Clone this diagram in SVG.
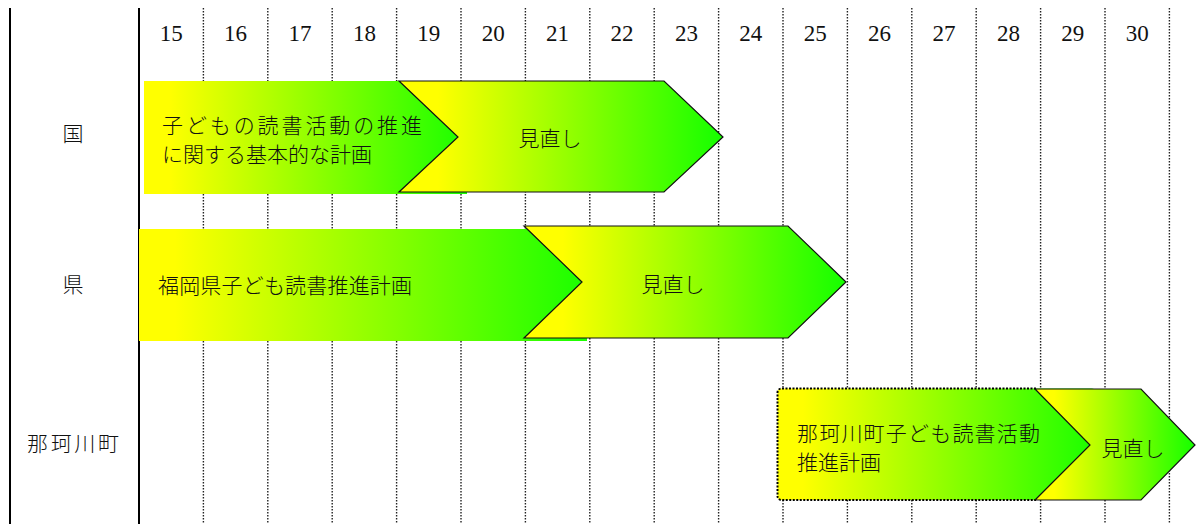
<svg xmlns="http://www.w3.org/2000/svg" width="1196" height="524" viewBox="0 0 1196 524">
<style>
.grid{stroke:#222;stroke-width:1.4;stroke-dasharray:1.5 1.5;fill:none}
.solid{stroke:#000;stroke-width:2;fill:none}
.yr{font-family:"Liberation Serif",serif;font-size:23px;fill:#111;text-anchor:middle}
.jp{font-family:"Noto Sans CJK JP",sans-serif;font-size:21px;font-weight:300;fill:#111;dominant-baseline:central}
.mid{text-anchor:middle}
.chev{stroke:#111;stroke-width:1.2}
</style>
<defs>
<linearGradient id="g" x1="0" y1="0" x2="1" y2="0">
<stop offset="0.08" stop-color="#ffff00"/>
<stop offset="1" stop-color="#1aff00"/>
</linearGradient>
<linearGradient id="gc" x1="0" y1="0" x2="1" y2="0">
<stop offset="0.12" stop-color="#ffff00"/>
<stop offset="1" stop-color="#15ff00"/>
</linearGradient>
</defs>
<g id="grid">
<line class="solid" x1="10" y1="8" x2="10" y2="524"/>
<line class="solid" x1="139" y1="8" x2="139" y2="524"/>
<line class="grid" x1="203.4" y1="8" x2="203.4" y2="524"/>
<line class="grid" x1="267.8" y1="8" x2="267.8" y2="524"/>
<line class="grid" x1="332.2" y1="8" x2="332.2" y2="524"/>
<line class="grid" x1="396.6" y1="8" x2="396.6" y2="524"/>
<line class="grid" x1="461" y1="8" x2="461" y2="524"/>
<line class="grid" x1="525.4" y1="8" x2="525.4" y2="524"/>
<line class="grid" x1="589.8" y1="8" x2="589.8" y2="524"/>
<line class="grid" x1="654.2" y1="8" x2="654.2" y2="524"/>
<line class="grid" x1="718.6" y1="8" x2="718.6" y2="524"/>
<line class="grid" x1="783" y1="8" x2="783" y2="524"/>
<line class="grid" x1="847.4" y1="8" x2="847.4" y2="524"/>
<line class="grid" x1="911.8" y1="8" x2="911.8" y2="524"/>
<line class="grid" x1="976.2" y1="8" x2="976.2" y2="524"/>
<line class="grid" x1="1040.6" y1="8" x2="1040.6" y2="524"/>
<line class="grid" x1="1105" y1="8" x2="1105" y2="524"/>
<line class="grid" x1="1169.4" y1="8" x2="1169.4" y2="524"/>
</g>
<g id="years">
<text class="yr" x="171.2" y="41">15</text>
<text class="yr" x="235.6" y="41">16</text>
<text class="yr" x="300" y="41">17</text>
<text class="yr" x="364.4" y="41">18</text>
<text class="yr" x="428.8" y="41">19</text>
<text class="yr" x="493.2" y="41">20</text>
<text class="yr" x="557.6" y="41">21</text>
<text class="yr" x="622" y="41">22</text>
<text class="yr" x="686.4" y="41">23</text>
<text class="yr" x="750.8" y="41">24</text>
<text class="yr" x="815.2" y="41">25</text>
<text class="yr" x="879.6" y="41">26</text>
<text class="yr" x="944" y="41">27</text>
<text class="yr" x="1008.4" y="41">28</text>
<text class="yr" x="1072.8" y="41">29</text>
<text class="yr" x="1137.2" y="41">30</text>
</g>
<g id="row-labels">
<text class="jp mid" x="73" y="132">国</text>
<text class="jp mid" x="73" y="283">県</text>
<text class="jp mid" x="73" y="442" textLength="92" lengthAdjust="spacing">那珂川町</text>
</g>
<g id="kuni-plan">
<rect x="144" y="81" width="323" height="113" fill="url(#g)"/>
<text class="jp" x="162" y="124" textLength="260" lengthAdjust="spacing">子どもの読書活動の推進</text>
<text class="jp" x="162" y="153">に関する基本的な計画</text>
</g>
<g id="kuni-review">
<polygon class="chev" points="399,81 458,137 399,192 664,192 723,137 664,81" fill="url(#gc)"/>
<text class="jp mid" x="550" y="137">見直し</text>
</g>
<g id="ken-plan">
<rect x="139" y="229" width="448" height="112" fill="url(#g)"/>
<text class="jp" x="158" y="284" textLength="254" lengthAdjust="spacing">福岡県子ども読書推進計画</text>
</g>
<g id="ken-review">
<polygon class="chev" points="524,226 582,282 524,338 788,338 846,282 788,226" fill="url(#gc)"/>
<text class="jp mid" x="673" y="283">見直し</text>
</g>
<g id="town-plan">
<rect x="777.5" y="388.5" width="318" height="111.5" rx="4" fill="url(#g)"/>
<path d="M1036,388.5 H781.5 A4,4 0 0 0 777.5,392.5 V496 A4,4 0 0 0 781.5,500 H1036" fill="none" stroke="#000" stroke-width="2" stroke-dasharray="2 1.5"/>
<text class="jp" x="797" y="432" textLength="243" lengthAdjust="spacing">那珂川町子ども読書活動</text>
<text class="jp" x="797" y="461">推進計画</text>
</g>
<g id="town-review">
<polygon class="chev" points="1035,389 1090,445 1035,500 1141,500 1195,445 1141,389" fill="url(#gc)"/>
<text class="jp mid" x="1133" y="447">見直し</text>
</g>
</svg>
